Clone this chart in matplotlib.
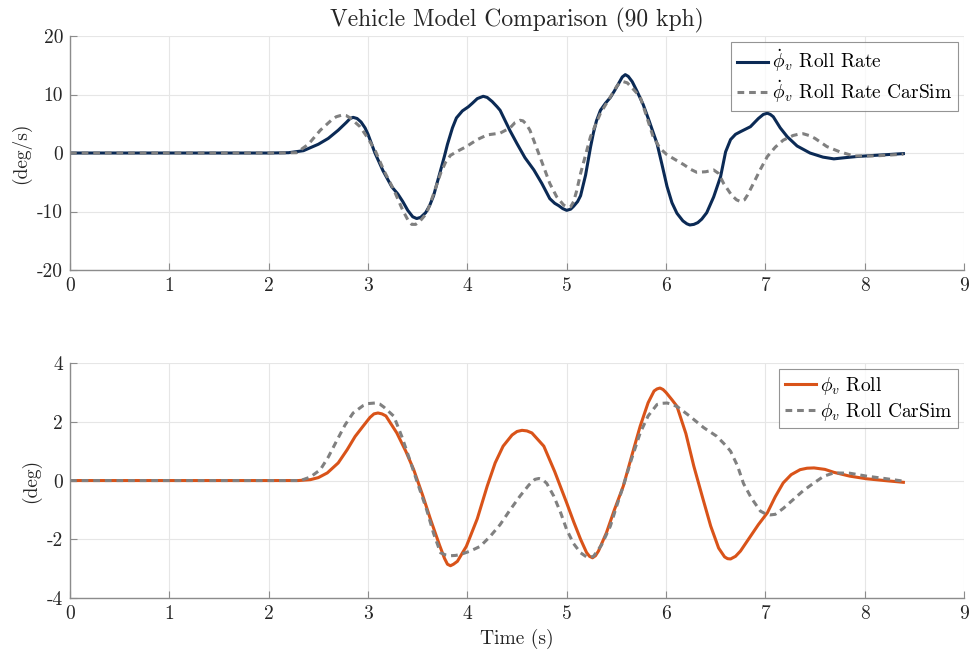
import matplotlib
matplotlib.use("Agg")
import matplotlib.pyplot as plt

plt.rcParams["font.family"] = "cmr10"
plt.rcParams["mathtext.fontset"] = "cm"
plt.rcParams["axes.unicode_minus"] = False
plt.rcParams["axes.formatter.use_mathtext"] = True

# (time s, roll rate deg/s), model
rate_pts = [(0, 0), (0.5, 0), (1.0, 0), (1.5, 0), (2.0, 0), (2.2, 0.05), (2.35, 0.4),
            (2.5, 1.5), (2.6, 2.5), (2.7, 3.9), (2.78, 5.2), (2.82, 5.9), (2.85, 6.1),
            (2.89, 5.9), (2.93, 5.3), (2.97, 4.3), (3.0, 3.2), (3.07, 0), (3.15, -3.0),
            (3.24, -5.8), (3.3, -7.0), (3.35, -8.3), (3.4, -9.8), (3.45, -10.9),
            (3.49, -11.2), (3.53, -11.0), (3.58, -10.2), (3.62, -9.0), (3.66, -7.3),
            (3.73, -3.0), (3.77, -0.5), (3.8, 1.5), (3.85, 4.3), (3.89, 6.0), (3.95, 7.2),
            (4.01, 7.9), (4.05, 8.5), (4.1, 9.3), (4.16, 9.7), (4.2, 9.5), (4.25, 8.8),
            (4.3, 7.9), (4.33, 7.3), (4.43, 3.8), (4.5, 1.6), (4.58, -0.8), (4.67, -2.9),
            (4.75, -5.2), (4.83, -7.8), (4.88, -8.6), (4.92, -9.0), (4.96, -9.5),
            (5.0, -9.8), (5.04, -9.6), (5.07, -9.1), (5.11, -8.3), (5.14, -7.3),
            (5.19, -3.8), (5.24, 1.0), (5.27, 3.5), (5.3, 5.5), (5.34, 7.3), (5.39, 8.5),
            (5.44, 9.5), (5.48, 10.6), (5.52, 11.8), (5.56, 13.0), (5.59, 13.4),
            (5.62, 13.1), (5.66, 12.2), (5.71, 10.5), (5.77, 8.3), (5.83, 5.5),
            (5.91, 1.6), (5.96, -2.0), (6.01, -5.7), (6.06, -8.5), (6.11, -10.3),
            (6.17, -11.6), (6.21, -12.1), (6.24, -12.3), (6.28, -12.2), (6.32, -11.9),
            (6.36, -11.3), (6.41, -10.2), (6.48, -7.5), (6.55, -4.0), (6.6, 0.2),
            (6.65, 2.3), (6.7, 3.2), (6.75, 3.65), (6.85, 4.5), (6.93, 5.9), (6.98, 6.6),
            (7.02, 6.8), (7.05, 6.6), (7.08, 6.2), (7.15, 4.3), (7.22, 2.8), (7.32, 1.2),
            (7.45, 0), (7.58, -0.7), (7.69, -1.0), (7.8, -0.8), (7.92, -0.6), (8.1, -0.4),
            (8.25, -0.25), (8.39, -0.1)]

# (time s, roll rate deg/s), CarSim
rate_cs_pts = [(0, 0), (1.0, 0), (2.0, 0), (2.28, 0.05), (2.4, 1.5), (2.52, 3.9),
               (2.63, 5.6), (2.68, 6.2), (2.74, 6.5), (2.78, 6.4), (2.82, 6.0),
               (2.92, 4.5), (3.0, 2.5), (3.07, 0.5), (3.16, -3.0), (3.26, -6.3),
               (3.35, -9.8), (3.4, -11.4), (3.44, -12.2), (3.48, -12.2), (3.52, -11.7),
               (3.59, -10.3), (3.66, -7.0), (3.73, -3.5), (3.78, -1.6), (3.83, -0.4),
               (3.9, 0.3), (3.99, 1.1), (4.1, 2.3), (4.2, 3.1), (4.33, 3.4), (4.43, 4.3),
               (4.48, 5.2), (4.53, 5.6), (4.56, 5.5), (4.59, 5.0), (4.63, 3.9),
               (4.73, -0.6), (4.83, -5.2), (4.9, -7.5), (4.97, -8.9), (5.0, -9.2),
               (5.04, -9.2), (5.07, -8.3), (5.1, -6.5), (5.14, -3.5), (5.24, 2.8),
               (5.34, 6.8), (5.44, 9.6), (5.5, 11.3), (5.53, 11.9), (5.57, 12.2),
               (5.61, 12.0), (5.65, 11.3), (5.74, 9.6), (5.8, 6.5), (5.87, 2.8),
               (5.94, 0.8), (6.01, -0.3), (6.1, -1.2), (6.18, -2.0), (6.25, -2.8),
               (6.31, -3.3), (6.4, -3.2), (6.48, -2.9), (6.53, -3.5), (6.58, -5.2),
               (6.66, -7.2), (6.71, -8.0), (6.75, -8.3), (6.79, -8.0), (6.82, -7.2),
               (6.88, -5.2), (6.95, -2.8), (7.02, -0.6), (7.1, 1.0), (7.18, 2.2),
               (7.28, 3.0), (7.33, 3.2), (7.38, 3.3), (7.44, 3.0), (7.5, 2.5), (7.62, 1.1),
               (7.75, 0.2), (7.89, -0.5), (8.1, -0.5), (8.25, -0.35), (8.39, -0.2)]

# (time s, roll deg), model
roll_pts = [(0, 0), (2.0, 0), (2.3, 0), (2.42, 0.03), (2.5, 0.1), (2.59, 0.26),
            (2.7, 0.6), (2.79, 1.05), (2.87, 1.5), (2.95, 1.85), (3.02, 2.15),
            (3.06, 2.27), (3.1, 2.3), (3.14, 2.27), (3.18, 2.2), (3.29, 1.62), (3.38, 1.0),
            (3.46, 0.37), (3.55, -0.5), (3.63, -1.33), (3.72, -2.2), (3.77, -2.65),
            (3.8, -2.85), (3.83, -2.9), (3.86, -2.85), (3.9, -2.75), (3.99, -2.24),
            (4.1, -1.3), (4.2, -0.19), (4.28, 0.6), (4.36, 1.17), (4.45, 1.55),
            (4.5, 1.67), (4.55, 1.71), (4.6, 1.69), (4.65, 1.62), (4.77, 1.17),
            (4.88, 0.3), (5.0, -0.76), (5.07, -1.4), (5.14, -2.0), (5.2, -2.45),
            (5.23, -2.58), (5.26, -2.63), (5.29, -2.56), (5.32, -2.4), (5.4, -1.78),
            (5.48, -1.0), (5.57, -0.19), (5.66, 0.9), (5.74, 1.85), (5.82, 2.65),
            (5.88, 3.05), (5.91, 3.12), (5.94, 3.15), (5.97, 3.1), (6.0, 3.0),
            (6.06, 2.75), (6.11, 2.53), (6.2, 1.6), (6.28, 0.49), (6.37, -0.6),
            (6.45, -1.55), (6.53, -2.3), (6.59, -2.6), (6.62, -2.66), (6.65, -2.67),
            (6.7, -2.58), (6.75, -2.4), (6.85, -1.9), (6.93, -1.5), (7.02, -1.1),
            (7.1, -0.55), (7.18, -0.08), (7.26, 0.2), (7.35, 0.37), (7.42, 0.42),
            (7.49, 0.43), (7.6, 0.38), (7.69, 0.28), (7.85, 0.15), (8.02, 0.06),
            (8.2, 0), (8.39, -0.06)]

# (time s, roll deg), CarSim
roll_cs_pts = [(0, 0), (2.0, 0), (2.32, 0), (2.42, 0.12), (2.52, 0.37), (2.6, 0.8),
               (2.69, 1.39), (2.77, 1.9), (2.85, 2.3), (2.95, 2.55), (3.0, 2.62),
               (3.07, 2.64), (3.12, 2.6), (3.16, 2.5), (3.26, 2.19), (3.34, 1.5),
               (3.42, 0.71), (3.5, -0.1), (3.59, -0.99), (3.66, -1.8), (3.73, -2.46),
               (3.78, -2.53), (3.83, -2.56), (3.88, -2.55), (3.93, -2.52), (4.03, -2.4),
               (4.13, -2.24), (4.23, -1.9), (4.33, -1.5), (4.43, -1.0), (4.53, -0.53),
               (4.62, -0.15), (4.68, 0.04), (4.72, 0.07), (4.76, 0.03), (4.8, -0.1),
               (4.87, -0.53), (4.94, -1.1), (5.0, -1.67), (5.07, -2.15), (5.14, -2.46),
               (5.2, -2.6), (5.24, -2.61), (5.27, -2.58), (5.35, -2.2), (5.44, -1.55),
               (5.5, -0.9), (5.57, -0.19), (5.65, 0.7), (5.74, 1.62), (5.82, 2.2),
               (5.91, 2.59), (5.96, 2.63), (6.01, 2.64), (6.06, 2.6), (6.12, 2.5),
               (6.24, 2.19), (6.38, 1.8), (6.51, 1.51), (6.6, 1.2), (6.65, 1.0),
               (6.72, 0.5), (6.78, -0.1), (6.86, -0.6), (6.95, -1.04), (7.0, -1.13),
               (7.05, -1.17), (7.1, -1.15), (7.18, -0.95), (7.28, -0.65), (7.38, -0.35),
               (7.49, -0.08), (7.59, 0.15), (7.69, 0.26), (7.85, 0.25), (8.02, 0.15),
               (8.2, 0.07), (8.39, -0.02)]

x_ticks = [0, 1, 2, 3, 4, 5, 6, 7, 8, 9]
rate_ticks = [-20, -10, 0, 10, 20]
roll_ticks = [-4, -2, 0, 2, 4]

navy = "#0b2a55"
orange = "#d95319"
grey = "#808080"
fs = 14

fig = plt.figure(figsize=(9.7, 6.6), dpi=100)
ax1 = fig.add_axes([0.0722, 0.5909, 0.9216, 0.3545])
ax2 = fig.add_axes([0.0722, 0.0939, 0.9216, 0.3560])

ax1.plot(*zip(*rate_pts), color=navy, lw=2.2, label=r"$\dot{\phi}_v$ Roll Rate")
ax1.plot(*zip(*rate_cs_pts), color=grey, lw=2.2, dashes=(2.2, 1.6),
         label=r"$\dot{\phi}_v$ Roll Rate CarSim")
ax2.plot(*zip(*roll_pts), color=orange, lw=2.2, label=r"$\phi_v$ Roll")
ax2.plot(*zip(*roll_cs_pts), color=grey, lw=2.2, dashes=(2.2, 1.6),
         label=r"$\phi_v$ Roll CarSim")

for ax, yt, lim in [(ax1, rate_ticks, (-20, 20)), (ax2, roll_ticks, (-4, 4))]:
    ax.set_xlim(0, 9)
    ax.set_ylim(*lim)
    ax.set_xticks(x_ticks)
    ax.set_xticklabels([str(v) for v in x_ticks], fontsize=fs)
    ax.set_yticks(yt)
    ax.set_yticklabels([str(v) for v in yt], fontsize=fs)
    ax.grid(True, color="#e6e6e6", lw=0.8)
    ax.set_axisbelow(True)
    for s in ("top", "right"):
        ax.spines[s].set_visible(False)
    for s in ("left", "bottom"):
        ax.spines[s].set_color("#8c8c8c")
        ax.spines[s].set_linewidth(1.0)
    ax.tick_params(direction="in", length=5, color="#8c8c8c", labelcolor="#262626", pad=5)
    leg = ax.legend(loc="upper right", fontsize=fs, frameon=True, fancybox=False,
                    handlelength=1.6, handletextpad=0.2, borderpad=0.3,
                    labelspacing=0.2, borderaxespad=0.3)
    leg.get_frame().set_edgecolor("#7a7a7a")
    leg.get_frame().set_linewidth(0.8)

ax1.set_title("Vehicle Model Comparison (90 kph)", fontsize=17, color="#262626", pad=7)
ax1.set_ylabel("(deg/s)", fontsize=fs, color="#262626")
ax2.set_ylabel("(deg)", fontsize=fs, color="#262626")
ax2.set_xlabel("Time (s)", fontsize=fs, color="#262626")

fig.savefig("out.png", dpi=100)
